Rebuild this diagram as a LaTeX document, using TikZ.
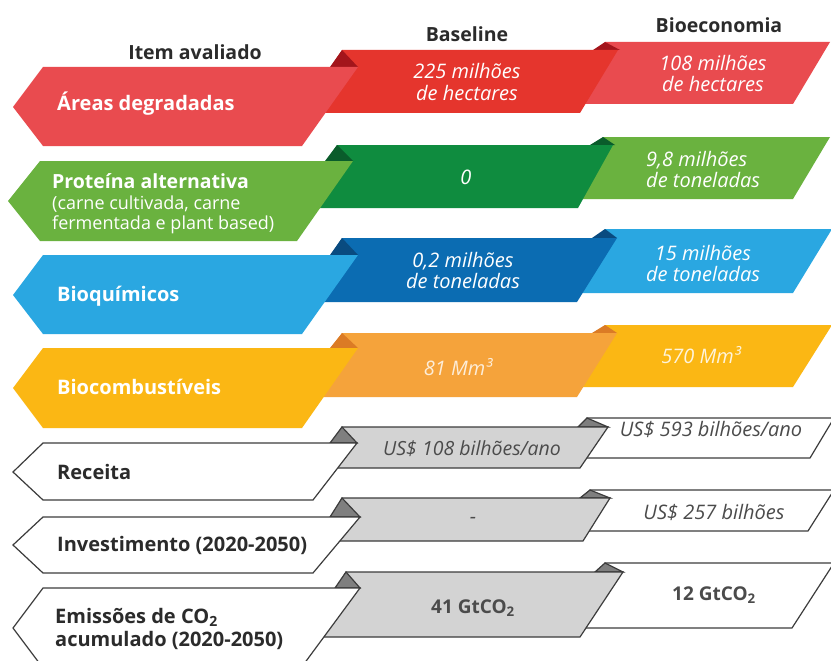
\documentclass[tikz,border=0pt]{standalone}
\usepackage{fontspec}
\setmainfont{Open Sans}
\definecolor{redA}{HTML}{E94B4F}
\definecolor{redB}{HTML}{E5352D}
\definecolor{redF}{HTML}{A3151B}
\definecolor{greenA}{HTML}{6AB23F}
\definecolor{greenB}{HTML}{0F8C3F}
\definecolor{greenF}{HTML}{0A5C2B}
\definecolor{blueA}{HTML}{2AA7E1}
\definecolor{blueB}{HTML}{0B6CB2}
\definecolor{blueF}{HTML}{094B80}
\definecolor{yellowA}{HTML}{FBB714}
\definecolor{orangeB}{HTML}{F5A33B}
\definecolor{orangeF}{HTML}{DB7B25}
\definecolor{grayB}{HTML}{D3D3D3}
\definecolor{grayF}{HTML}{7F7F7F}
\definecolor{outl}{HTML}{3C3C3C}
\definecolor{txtdark}{HTML}{2B2B2B}
\begin{document}
\begin{tikzpicture}[x=1pt,y=-1pt,
  lbl/.style={anchor=west, font=\bfseries\fontsize{20}{23}\selectfont, text=white, align=left, inner sep=0pt},
  lbldark/.style={lbl, text=txtdark},
  val/.style={font=\itshape\fontsize{20}{21}\selectfont, align=center, inner sep=0pt, text=white},
  valdark/.style={val, text=txtdark!85},
  hdr/.style={font=\bfseries\fontsize{19.5}{22}\selectfont, text=txtdark, inner sep=0pt},
  outlined/.style={draw=outl, line width=1.2pt, line join=miter}]
\useasboundingbox (0,0) rectangle (831,661);
\fill[white] (0,0) rectangle (831,661);

% headers
\node[hdr] (hItem) at (195,52) {Item avaliado};
\node[hdr] (hBase) at (467,34) {Baseline};
\node[hdr] (hBio) at (719,25) {Bioeconomia};

% ---------- Row 1 ----------
\fill[redA] (605,42) -- (830,42) -- (793,104) -- (570,104) -- cycle;
\fill[redF] (593,50) -- (605,42) -- (620,50) -- cycle;
\fill[redB] (342,50) -- (618,50) -- (580,113) -- (300,113) -- cycle;
\fill[redF] (330,67) -- (342,50) -- (358,67) -- cycle;
\fill[redA] (43,67) -- (358,67) -- (302,146) -- (43,146) -- (13,107) -- cycle;
\node[lbl] (l1) at (57,104) {Áreas degradadas};
\node[val] (b1) at (467,82) {225 milhões\\de hectares};
\node[val] (e1) at (713,74) {108 milhões\\de hectares};

% ---------- Row 2 ----------
\fill[greenA] (603,137) -- (830,137) -- (793,199) -- (568,199) -- cycle;
\fill[greenF] (590,145) -- (603,137) -- (615,145) -- cycle;
\fill[greenB] (337,145) -- (613,145) -- (578,208) -- (295,208) -- cycle;
\fill[greenF] (325,161) -- (337,145) -- (353,161) -- cycle;
\fill[greenA] (40,161) -- (353,161) -- (297,241) -- (40,241) -- (8,201) -- cycle;
\node[lbl, font=\bfseries\fontsize{19.5}{20.5}\selectfont] (l2) at (52,204) {Proteína alternativa\\{\mdseries\fontsize{18}{20.5}\selectfont (carne cultivada, carne}\\{\mdseries\fontsize{18}{20.5}\selectfont fermentada e plant based)}};
\node[val] (b2) at (466,177) {0};
\node[val, anchor=west, align=left] (e2) at (646,169) {9,8 milhões\\de toneladas};

% ---------- Row 3 ----------
\fill[blueA] (605,229) -- (832,229) -- (793,293) -- (570,293) -- cycle;
\fill[blueF] (592,238) -- (605,229) -- (617,238) -- cycle;
\fill[blueB] (342,238) -- (617,238) -- (577,302) -- (300,302) -- cycle;
\fill[blueF] (330,255) -- (342,238) -- (358,255) -- cycle;
\fill[blueA] (43,255) -- (358,255) -- (302,334) -- (43,334) -- (13,295) -- cycle;
\node[lbl] (l3) at (57,296) {Bioquímicos};
\node[val] (b3) at (463,270) {0,2 milhões\\de toneladas};
\node[val] (e3) at (703,263) {15 milhões\\de toneladas};

% ---------- Row 4 ----------
\fill[yellowA] (605,325) -- (832,325) -- (793,387) -- (570,387) -- cycle;
\fill[orangeF] (592,333) -- (605,325) -- (617,333) -- cycle;
\fill[orangeB] (342,333) -- (617,333) -- (577,397) -- (300,397) -- cycle;
\fill[orangeF] (330,348) -- (342,333) -- (358,348) -- cycle;
\fill[yellowA] (43,348) -- (358,348) -- (302,428) -- (43,428) -- (13,388) -- cycle;
\node[lbl] (l4) at (57,387) {Biocombustíveis};
\node[val, text=white!80!orangeB] (b4) at (458,367) {81 Mm³};
\node[val, text=white!85!yellowA] (e4) at (701,355) {570 Mm³};

% ---------- Row 5 ----------
\filldraw[fill=white, outlined] (587,418) -- (834,418) -- (810,458) -- (570,458) -- cycle;
\filldraw[fill=grayF, outlined] (578,427) -- (587,418) -- (608,427) -- cycle;
\filldraw[fill=grayB, outlined] (342,427) -- (608,427) -- (580,468) -- (320,468) -- cycle;
\filldraw[fill=grayF, outlined] (330,443) -- (342,427) -- (357,443) -- cycle;
\filldraw[fill=white, outlined] (43,443) -- (357,443) -- (313,500) -- (43,500) -- (13,472) -- cycle;
\node[lbldark] (l5) at (57,472) {Receita};
\node[valdark, font=\itshape\fontsize{19.5}{21}\selectfont] (b5) at (472,449) {US\$ 108 bilhões/ano};
\node[valdark] (e5) at (711,429) {US\$ 593 bilhões/ano};

% ---------- Row 6 ----------
\filldraw[fill=white, outlined] (590,490) -- (834,490) -- (808,531) -- (570,531) -- cycle;
\filldraw[fill=grayF, outlined] (580,498) -- (590,490) -- (610,498) -- cycle;
\filldraw[fill=grayB, outlined] (342,498) -- (610,498) -- (583,541) -- (320,541) -- cycle;
\filldraw[fill=grayF, outlined] (330,517) -- (342,498) -- (360,517) -- cycle;
\filldraw[fill=white, outlined] (43,517) -- (360,517) -- (313,573) -- (43,573) -- (13,545) -- cycle;
\node[lbldark] (l6) at (57,545) {Investimento (2020-2050)};
\node[valdark] (b6) at (473,520) {-};
\node[valdark] (e6) at (714,512) {US\$ 257 bilhões};

% ---------- Row 7 ----------
\filldraw[fill=white, outlined] (605,563) -- (834,563) -- (792,628) -- (570,628) -- cycle;
\filldraw[fill=grayF, outlined] (595,572) -- (605,563) -- (623,572) -- cycle;
\filldraw[fill=grayB, outlined] (346,572) -- (623,572) -- (580,637) -- (310,637) -- cycle;
\filldraw[fill=grayF, outlined] (335,588) -- (346,572) -- (360,588) -- cycle;
\filldraw[fill=white, outlined] (43,588) -- (360,588) -- (301,668) -- (43,668) -- (13,628) -- cycle;
\node[lbldark] (l7) at (55,629) {Emissões de CO\textsubscript{2}\\acumulado (2020-2050)};
\node[valdark, font=\bfseries\fontsize{19}{21}\selectfont] (b7) at (473,608) {41 GtCO\textsubscript{2}};
\node[valdark, font=\bfseries\fontsize{19}{21}\selectfont] (e7) at (714,595) {12 GtCO\textsubscript{2}};
\end{tikzpicture}
\end{document}
